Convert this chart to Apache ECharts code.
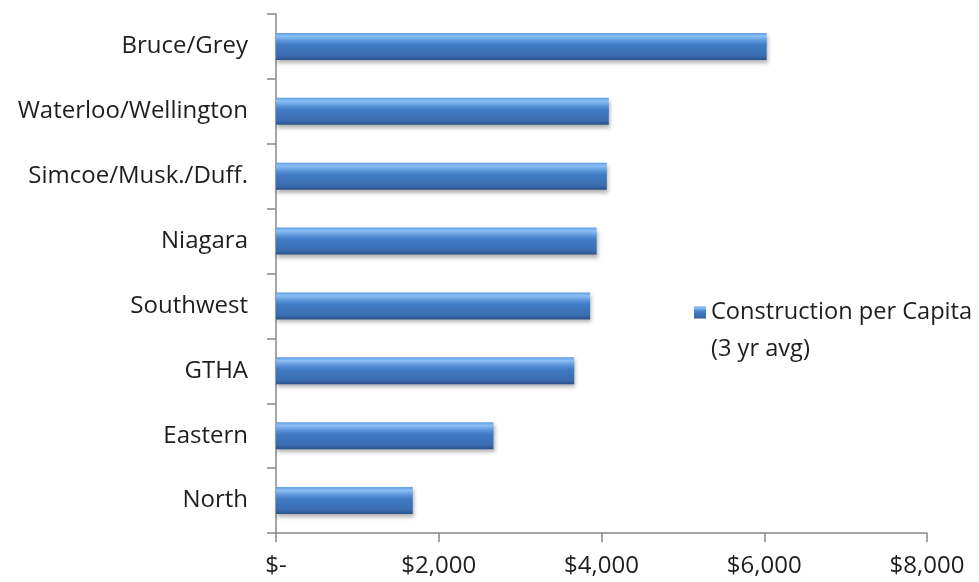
<!DOCTYPE html>
<html lang="en">
<head>
	<meta charset="UTF-8">
	<title>Construction per Capita</title>
	<script src="https://cdn.jsdelivr.net/npm/echarts@6/dist/echarts.min.js"></script>
	<style>
		html, body { margin: 0; padding: 0; background: #fff; }
	</style>
</head>
<body>
	<div id="main" style="width: 979px;height: 582px;"></div>
	<script>
		var regions = ['Bruce/Grey', 'Waterloo/Wellington', 'Simcoe/Musk./Duff.', 'Niagara',
			'Southwest', 'GTHA', 'Eastern', 'North'];
		var perCapita = [6030, 4090, 4065, 3940, 3860, 3665, 2673, 1681];
		var tickLabels = ['$-', '$2,000', '$4,000', '$6,000', '$8,000'];

		var font = 'Open Sans';
		var txtColor = '#1e1e1e';
		var myChart = echarts.init(document.getElementById('main'));
		var option = {
			animation: false,
			grid: {
				left: 276,
				right: 52,
				top: 14,
				bottom: 49
			},
			legend: {
				left: 689,
				top: 252,
				icon: 'rect',
				itemWidth: 12,
				itemHeight: 12,
				itemGap: 0,
				// blank first line keeps the icon level with the first text line
				formatter: function () {
					return '\nConstruction per Capita\n(3 yr avg)';
				},
				textStyle: {
					fontFamily: font,
					fontSize: 23.6,
					color: txtColor,
					lineHeight: 37
				}
			},
			xAxis: {
				type: 'value',
				min: 0,
				max: 8000,
				interval: 2000,
				splitLine: { show: false },
				axisLine: { show: true, lineStyle: { color: '#888', width: 1.5 } },
				axisTick: { show: true, length: 9, lineStyle: { color: '#888', width: 1.5 } },
				axisLabel: {
					margin: 21,
					fontFamily: font,
					fontSize: 24,
					color: txtColor,
					formatter: function (v) {
						return tickLabels[Math.round(v / 2000)];
					}
				}
			},
			yAxis: {
				type: 'category',
				data: regions,
				inverse: true,
				axisLine: { show: true, lineStyle: { color: '#888', width: 1.5 } },
				axisTick: { show: true, length: 9, lineStyle: { color: '#888', width: 1.5 } },
				axisLabel: {
					margin: 28,
					fontFamily: font,
					fontSize: 24,
					color: txtColor
				}
			},
			series: [{
				name: 'Construction per Capita (3 yr avg)',
				type: 'bar',
				barWidth: 27,
				data: perCapita,
				itemStyle: {
					color: new echarts.graphic.LinearGradient(0, 0, 0, 1, [
						{ offset: 0, color: '#5f9de4' },
						{ offset: 0.12, color: '#8cc0f4' },
						{ offset: 0.3, color: '#5a95da' },
						{ offset: 0.45, color: '#3f7bc4' },
						{ offset: 0.85, color: '#3a6db0' },
						{ offset: 1, color: '#2b5088' }
					]),
					shadowColor: 'rgba(0, 0, 0, 0.3)',
					shadowBlur: 4,
					shadowOffsetY: 3,
					shadowOffsetX: 1
				}
			}]
		};
		myChart.setOption(option);
	</script>
</body>
</html>
